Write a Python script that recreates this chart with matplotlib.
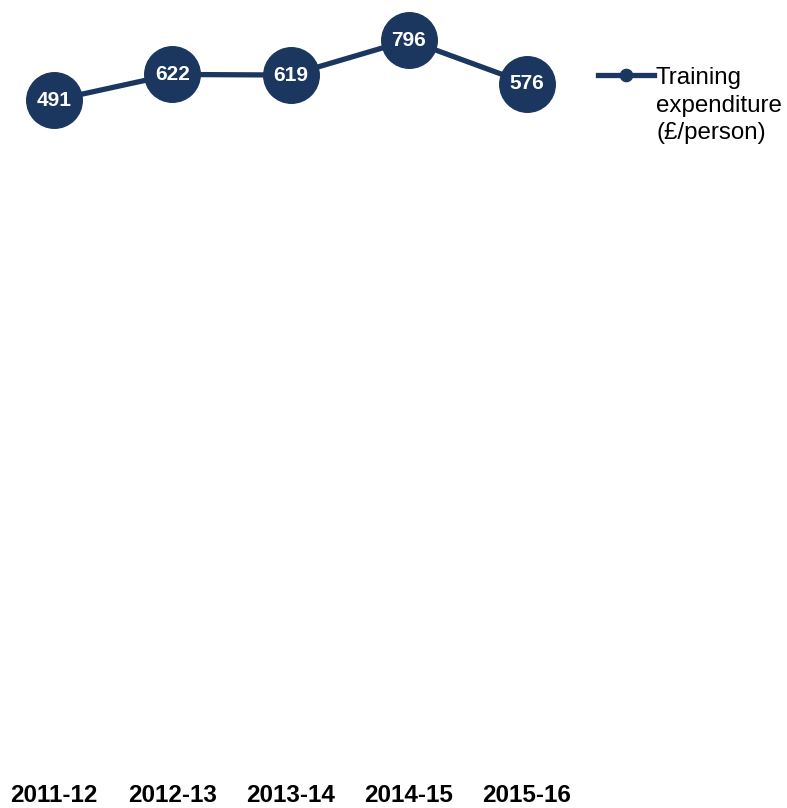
import matplotlib
matplotlib.use("Agg")
import matplotlib.pyplot as plt

years = ['2011-12', '2012-13', '2013-14', '2014-15', '2015-16']
spend = [491, 622, 619, 796, 576]

navy = '#1b375f'
plt.rcParams['font.family'] = ['Liberation Sans', 'DejaVu Sans']

fig = plt.figure(figsize=(7.87, 8.08), dpi=100)
ax = fig.add_axes([0, 30 / 808, 590 / 787, 778 / 808])

x = list(range(len(years)))
ax.plot(x, spend, '-o', color=navy, lw=3.8, ms=40, mec=navy, mfc=navy,
        label='Training\nexpenditure\n(£/person)')
for xi, v in zip(x, spend):
    ax.text(xi, v, str(v), color='white', fontsize=15, fontweight='bold',
            ha='center', va='center')

ax.set_xlim(-54 / 118.25, -54 / 118.25 + 590 / 118.25)
ax.set_ylim(-2950, 1000)
ax.set_xticks(x)
ax.set_xticklabels(years, fontsize=17.5, fontweight='bold')
ax.tick_params(axis='x', length=0, pad=4)
ax.set_yticks([])
for s in ax.spines.values():
    s.set_visible(False)

leg = ax.legend(loc='upper left', bbox_to_anchor=(598 / 787, 1 - 67 / 808),
                bbox_transform=fig.transFigure, frameon=False, fontsize=17.4,
                handlelength=2.3, handletextpad=0.1, borderpad=0,
                borderaxespad=0, markerscale=0.22)
for t in leg.get_texts():
    t.set_linespacing(1.33)
# put the handle next to the first line of the label
for col in leg._legend_handle_box.get_children():
    for item in col.get_children():
        item.align = 'top'

fig.savefig('out.png', dpi=100)
